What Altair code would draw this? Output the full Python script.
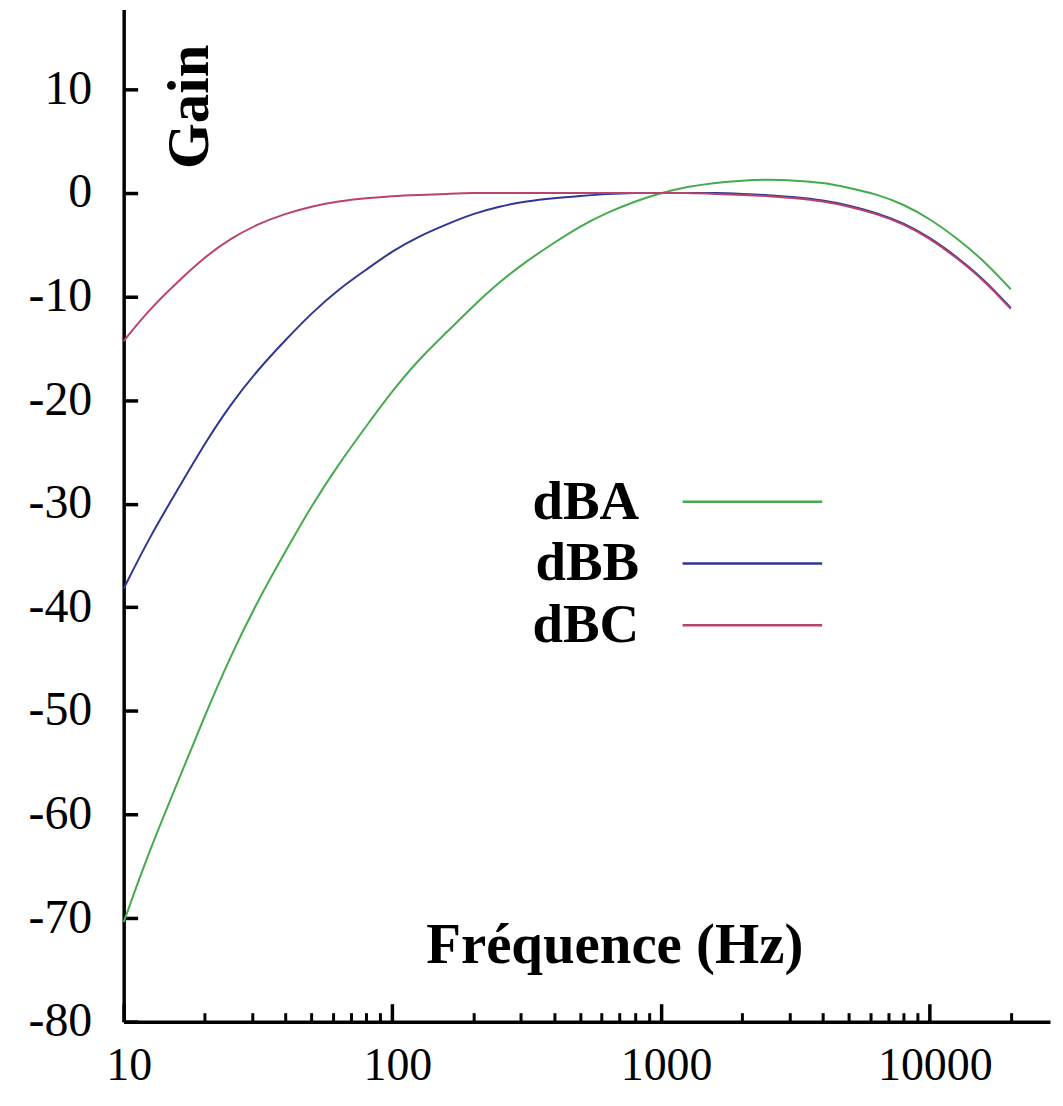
import altair as alt
import pandas as pd

freqs = [10, 12.5, 16, 20, 25, 31.5, 40, 50, 63, 80, 100, 125, 160, 200, 250, 315,
         400, 500, 630, 800, 1000, 1250, 1600, 2000, 2500, 3150, 4000, 5000, 6300,
         8000, 10000, 12500, 16000, 20000]
gain_a = [-70.4, -63.4, -56.7, -50.5, -44.7, -39.4, -34.6, -30.2, -26.2, -22.5, -19.1,
          -16.1, -13.4, -10.9, -8.6, -6.6, -4.8, -3.2, -1.9, -0.8, 0.0, 0.6, 1.0, 1.2,
          1.3, 1.2, 1.0, 0.5, -0.1, -1.1, -2.5, -4.3, -6.6, -9.3]
gain_b = [-38.2, -33.2, -28.5, -24.2, -20.4, -17.1, -14.2, -11.6, -9.3, -7.4, -5.6,
          -4.2, -3.0, -2.0, -1.3, -0.8, -0.5, -0.3, -0.1, 0.0, 0.0, 0.0, 0.0, -0.1,
          -0.2, -0.4, -0.7, -1.2, -1.9, -2.9, -4.3, -6.1, -8.4, -11.1]
gain_c = [-14.3, -11.2, -8.5, -6.2, -4.4, -3.0, -2.0, -1.3, -0.8, -0.5, -0.3, -0.2,
          -0.1, 0.0, 0.0, 0.0, 0.0, 0.0, 0.0, 0.0, 0.0, 0.0, -0.1, -0.2, -0.3, -0.5,
          -0.8, -1.3, -2.0, -3.0, -4.4, -6.2, -8.5, -11.2]

series = ["dBA", "dBB", "dBC"]
colors = ["#45ab4c", "#2f3792", "#b8446c"]

x_major = [10, 100, 1000, 10000]
x_minor = [20, 30, 40, 50, 60, 70, 80, 90,
           200, 300, 400, 500, 600, 700, 800, 900,
           2000, 3000, 4000, 5000, 6000, 7000, 8000, 9000, 20000]
y_ticks = [-80, -70, -60, -50, -40, -30, -20, -10, 0, 10]

rows = []
for name, vals in zip(series, [gain_a, gain_b, gain_c]):
    for f, g in zip(freqs, vals):
        rows.append({"freq": f, "gain": g, "series": name})
df = pd.DataFrame(rows)

W, H = 929, 1015
FONT = "Liberation Serif"

xscale = alt.Scale(type="log", domain=[10, 28000], nice=False)
yscale = alt.Scale(domain=[-80, 17.7], nice=False, zero=False)

legend = alt.Legend(
    orient="none", legendX=603, legendY=466, title=None,
    symbolType="M-7,0H7", symbolSize=400, symbolStrokeWidth=2.5,
    rowPadding=6, padding=0,
    labelFont=FONT, labelFontSize=55, labelFontWeight="bold", labelColor="black",
    labelAlign="right", labelOffset={"expr": "-141"}, labelLimit=0,
)

lines = alt.Chart(df).mark_line(strokeWidth=2, interpolate="basis").encode(
    x=alt.X("freq:Q", scale=xscale, axis=alt.Axis(
        orient="bottom", values=x_major, format="d", ticks=False, grid=False,
        domainColor="black", domainWidth=3.5, labelFont=FONT, labelFontSize=46,
        labelColor="black", labelPadding=22, labelOffset=5, labelFlush=False,
        labelOverlap=False, title="Fréquence (Hz)", titleFont=FONT,
        titleFontSize=57, titleFontWeight="bold", titleColor="black",
        titleX=492, titleY=-76, titleAlign="center", titleBaseline="middle",
        titleAngle=0)),
    y=alt.Y("gain:Q", scale=yscale, axis=alt.Axis(
        orient="left", values=y_ticks, labelExpr="'' + datum.value", ticks=False,
        grid=False, domainColor="black", domainWidth=3.5, labelFont=FONT,
        labelFontSize=48, labelColor="black", labelPadding=32, labelFlush=False,
        labelOverlap=False, title="Gain", titleFont=FONT, titleFontSize=59,
        titleFontWeight="bold", titleColor="black", titleX=66, titleY=97,
        titleAlign="center", titleBaseline="middle", titleAngle=270)),
    color=alt.Color("series:N", scale=alt.Scale(domain=series, range=colors),
                    legend=legend),
)

minor = alt.Chart(df).mark_line(strokeOpacity=0).encode(
    x=alt.X("freq:Q", scale=xscale, axis=alt.Axis(
        orient="top", offset=-H, values=x_minor, labels=False, domain=False,
        grid=False, tickSize=9, tickWidth=3, tickColor="black", title=None)),
    y=alt.Y("gain:Q", scale=yscale, axis=alt.Axis(
        orient="right", offset=-W, values=y_ticks, labels=False, domain=False,
        grid=False, tickSize=14, tickWidth=3.5, tickColor="black", title=None)),
    detail="series:N",
)

major = alt.Chart(df).mark_line(strokeOpacity=0).encode(
    x=alt.X("freq:Q", scale=xscale, axis=alt.Axis(
        orient="top", offset=-H, values=x_major, labels=False, domain=False,
        grid=False, tickSize=18, tickWidth=3.5, tickColor="black", title=None)),
    y=alt.Y("gain:Q", scale=yscale, axis=None),
    detail="series:N",
)

chart = alt.layer(lines, minor, major).resolve_axis(
    x="independent", y="independent"
).properties(
    width=W, height=H,
    autosize=alt.AutoSizeParams(type="none"),
    padding={"left": 116, "top": 0, "right": 5, "bottom": 76},
    background="white",
).configure_view(stroke=None)

chart.save("out.html", embed_options={"renderer": "svg", "actions": False})
